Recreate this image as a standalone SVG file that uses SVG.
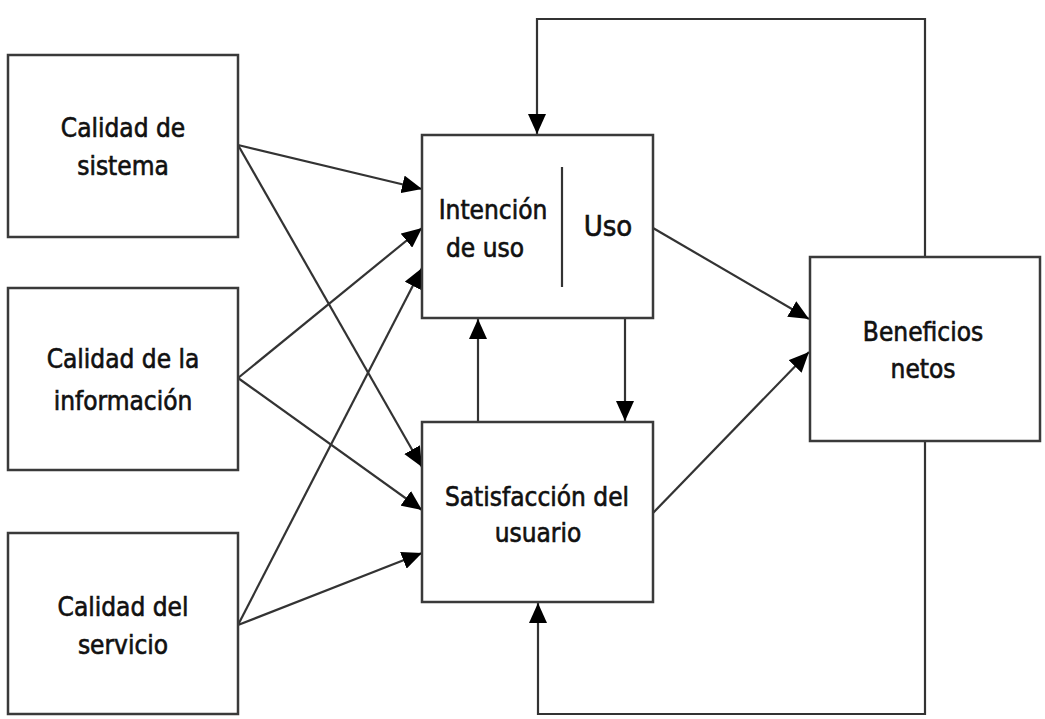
<svg xmlns="http://www.w3.org/2000/svg" width="1045" height="719" viewBox="0 0 1045 719">
<defs>
<style>
.box{fill:#fff;stroke:#3a3a3a;stroke-width:2.5}
.ln{fill:none;stroke:#333;stroke-width:2.2}
.t{font-family:"DejaVu Sans Condensed","DejaVu Sans",sans-serif;font-size:26px;fill:#111;text-anchor:middle;stroke:#111;stroke-width:0.6}
</style>
<marker id="ah" viewBox="0 0 20 18" refX="20" refY="9" markerWidth="20" markerHeight="18" markerUnits="userSpaceOnUse" orient="auto">
<path d="M0,0 L20,9 L0,18 Z" fill="#000"/>
</marker>
</defs>
<rect width="1045" height="719" fill="#fff"/>
<g id="connectors">
<line class="ln" x1="238" y1="145" x2="422" y2="189" marker-end="url(#ah)"/>
<line class="ln" x1="238" y1="145" x2="422" y2="467" marker-end="url(#ah)"/>
<line class="ln" x1="238" y1="378" x2="422" y2="228" marker-end="url(#ah)"/>
<line class="ln" x1="238" y1="378" x2="422" y2="510" marker-end="url(#ah)"/>
<line class="ln" x1="238" y1="625" x2="422" y2="268" marker-end="url(#ah)"/>
<line class="ln" x1="238" y1="625" x2="422" y2="553" marker-end="url(#ah)"/>
<line class="ln" x1="653" y1="228" x2="809" y2="319" marker-end="url(#ah)"/>
<line class="ln" x1="653" y1="513" x2="809" y2="352" marker-end="url(#ah)"/>
<line class="ln" x1="625" y1="318" x2="625" y2="421" marker-end="url(#ah)"/>
<line class="ln" x1="478" y1="422" x2="478" y2="319" marker-end="url(#ah)"/>
<polyline class="ln" points="925,257 925,19 537,19 537,134" marker-end="url(#ah)"/>
<polyline class="ln" points="925,441 925,714 538,714 538,603" marker-end="url(#ah)"/>
</g>
<g id="calidad-sistema">
<rect class="box" x="8" y="55" width="230" height="182"/>
<text class="t" x="123" y="137">Calidad de</text>
<text class="t" x="123" y="175">sistema</text>
</g>
<g id="calidad-informacion">
<rect class="box" x="8" y="288" width="230" height="182"/>
<text class="t" x="123" y="368">Calidad de la</text>
<text class="t" x="123" y="410">información</text>
</g>
<g id="calidad-servicio">
<rect class="box" x="8" y="533" width="230" height="181"/>
<text class="t" x="123" y="616">Calidad del</text>
<text class="t" x="123" y="654">servicio</text>
</g>
<g id="intencion-uso">
<rect class="box" x="422" y="135" width="231" height="183"/>
<line class="ln" x1="562" y1="167" x2="562" y2="287"/>
<text class="t" x="493" y="219">Intención</text>
<text class="t" x="485" y="257">de uso</text>
<text class="t" x="608" y="236" style="font-size:29px">Uso</text>
</g>
<g id="satisfaccion">
<rect class="box" x="422" y="422" width="231" height="180"/>
<text class="t" x="537" y="506">Satisfacción del</text>
<text class="t" x="538" y="542">usuario</text>
</g>
<g id="beneficios">
<rect class="box" x="810" y="257" width="230" height="184"/>
<text class="t" x="923" y="341">Beneficios</text>
<text class="t" x="923" y="378">netos</text>
</g>
</svg>
